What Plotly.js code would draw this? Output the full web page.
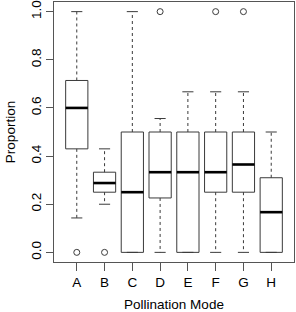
<!DOCTYPE html>
<html><head><meta charset="utf-8">
<script src="https://cdn.plot.ly/plotly-3.0.1.min.js"></script>
<style>html,body{margin:0;padding:0;background:#fff}</style>
</head><body><div id="chart" style="width:296px;height:312px"></div>
<script>
const categories = ["A","B","C","D","E","F","G","H"];
const lowerWhisker = [0.143, 0.2, 0, 0, 0, 0, 0, 0];
const q1 = [0.43, 0.25, 0, 0.226, 0, 0.25, 0.25, 0];
const median = [0.6, 0.288, 0.25, 0.333, 0.333, 0.333, 0.365, 0.167];
const q3 = [0.714, 0.333, 0.5, 0.5, 0.5, 0.5, 0.5, 0.31];
const upperWhisker = [1.0, 0.43, 1.0, 0.556, 0.667, 0.667, 0.667, 0.5];
const outlierCat = ["A","B","D","F","G"];
const outlierVal = [0, 0, 1.0, 1.0, 1.0];
const yTicks = [0, 0.2, 0.4, 0.6, 0.8, 1.0];

const boxHalf = 0.4, capHalf = 0.2;
const lineCol = "#3a3a3a";
const traces = [];
const bx = [], by = [];
const mx = [], my = [];
const wx = [], wy = [];
const cx = [], cy = [];
categories.forEach((c, i) => {
  const p = i + 1;
  bx.push(p-boxHalf, p+boxHalf, p+boxHalf, p-boxHalf, p-boxHalf, null);
  by.push(q1[i], q1[i], q3[i], q3[i], q1[i], null);
  mx.push(p-boxHalf, p+boxHalf, null);
  my.push(median[i], median[i], null);
  if (upperWhisker[i] > q3[i]) {
    wx.push(p, p, null); wy.push(q3[i], upperWhisker[i], null);
  }
  if (lowerWhisker[i] < q1[i]) {
    wx.push(p, p, null); wy.push(q1[i], lowerWhisker[i], null);
  }
  cx.push(p-capHalf, p+capHalf, null); cy.push(upperWhisker[i], upperWhisker[i], null);
  cx.push(p-capHalf, p+capHalf, null); cy.push(lowerWhisker[i], lowerWhisker[i], null);
});
traces.push({x: wx, y: wy, mode: "lines", line: {color: lineCol, width: 1, dash: "3px,3px"}, hoverinfo: "skip"});
traces.push({x: cx, y: cy, mode: "lines", line: {color: lineCol, width: 1}, hoverinfo: "skip"});
traces.push({x: bx, y: by, mode: "lines", line: {color: lineCol, width: 1}, hoverinfo: "skip"});
traces.push({x: mx, y: my, mode: "lines", line: {color: "#000", width: 2.6}, hoverinfo: "skip"});
traces.push({x: outlierCat.map(c => categories.indexOf(c) + 1), y: outlierVal, mode: "markers",
  marker: {symbol: "circle-open", size: 6, color: lineCol, line: {width: 1}}, hoverinfo: "skip"});

const font = {family: "Liberation Sans, Arial, sans-serif", size: 13.5, color: "#000"};
const layout = {
  width: 296, height: 312,
  margin: {l: 54, r: 2, t: 2, b: 50},
  showlegend: false,
  paper_bgcolor: "#fff", plot_bgcolor: "#fff",
  font: font,
  xaxis: {
    range: [0.18, 8.82], tickvals: categories.map((c, i) => i + 1), ticktext: categories,
    showgrid: false, zeroline: false, showline: true, mirror: true, linecolor: "#555", linewidth: 1,
    ticks: "outside", ticklen: 8, tickcolor: "#555", tickfont: font,
    title: {text: "Pollination Mode", font: font, standoff: 12}
  },
  yaxis: {
    range: [-0.04, 1.04], tickvals: yTicks, ticktext: yTicks.map(v => v.toFixed(1)),
    showgrid: false, zeroline: false, showline: true, mirror: true, linecolor: "#555", linewidth: 1,
    ticks: "outside", ticklen: 7, tickcolor: "#555", tickfont: font, tickangle: -90,
    title: {text: "Proportion", font: font, standoff: 9}
  }
};
Plotly.newPlot("chart", traces, layout, {staticPlot: true, displayModeBar: false});
</script></body></html>
